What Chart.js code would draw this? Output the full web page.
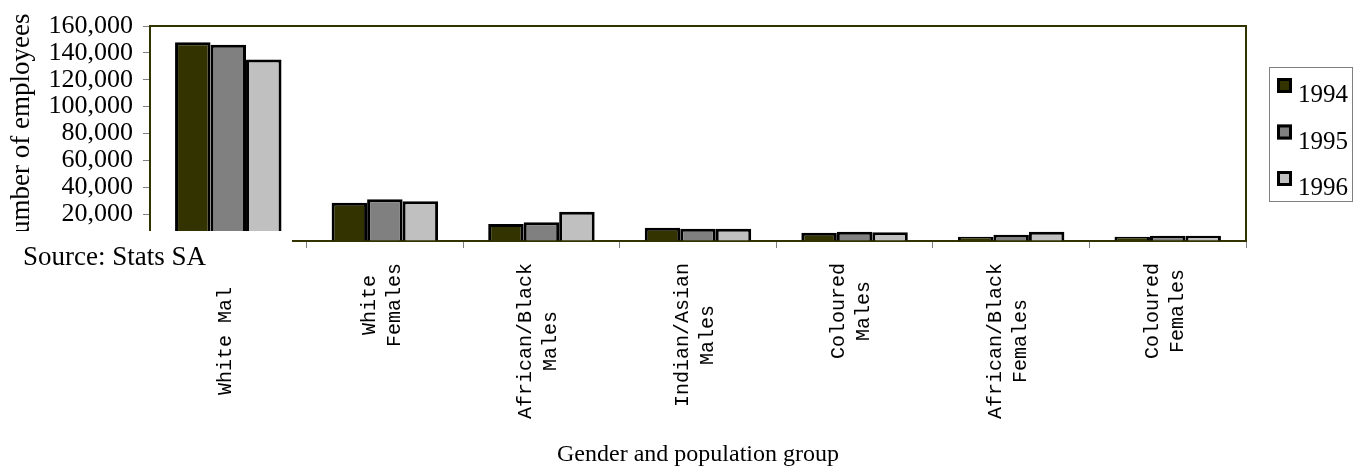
<!DOCTYPE html>
<html>
<head>
<meta charset="utf-8">
<script src="https://cdn.jsdelivr.net/npm/chart.js@4"></script>
<style>
  html, body { margin: 0; padding: 0; background: #fff; }
  #wrap { width: 1353px; height: 471px; }
</style>
</head>
<body>
<div id="wrap"><canvas id="chart" width="1353" height="471"></canvas></div>
<script>
// employees by gender and population group
const years = ['1994', '1995', '1996'];
const groups = [
  ['White Males'],
  ['White', 'Females'],
  ['African/Black', 'Males'],
  ['Indian/Asian', 'Males'],
  ['Coloured', 'Males'],
  ['African/Black', 'Females'],
  ['Coloured', 'Females']
];
const emp1994 = [148000, 28500, 12600, 9900, 6200, 3200, 3200];
const emp1995 = [146000, 31000, 13900, 9200, 6900, 4700, 3900];
const emp1996 = [135000, 29500, 21800, 9200, 6500, 6900, 3900];
const yTicks = [0, 20000, 40000, 60000, 80000, 100000, 120000, 140000, 160000];

const colors = ['#333300', '#808080', '#c0c0c0'];
const olive = '#333300';
const serif = '"Liberation Serif", "Times New Roman", serif';

// x labels, frame, source note and legend box
const extras = {
  id: 'extras',
  afterDraw(chart) {
    const ctx = chart.ctx;
    const area = chart.chartArea;
    const xs = chart.scales.x;
    ctx.save();

    // category labels, lines centred, rotated
    ctx.font = '20px "Liberation Mono", "Courier New", monospace';
    ctx.fillStyle = '#000';
    ctx.textAlign = 'center';
    ctx.textBaseline = 'middle';
    const top = area.bottom + 22;
    const lh = 25;
    chart.data.labels.forEach((lines, i) => {
      const x = xs.getPixelForTick(i) - 3;
      const longest = Math.max(...lines.map(l => ctx.measureText(l).width));
      ctx.save();
      ctx.translate(x, top + longest / 2);
      ctx.rotate(-Math.PI / 2);
      lines.forEach((l, j) => ctx.fillText(l, 0, (j - (lines.length - 1) / 2) * lh));
      ctx.restore();
    });

    // top and right frame
    ctx.strokeStyle = olive;
    ctx.lineWidth = 2;
    ctx.beginPath();
    ctx.moveTo(area.left, area.top);
    ctx.lineTo(area.right, area.top);
    ctx.lineTo(area.right, area.bottom);
    ctx.stroke();

    // source note box sitting over the lower left corner
    ctx.fillStyle = '#fff';
    ctx.fillRect(0, area.bottom - 10, 292, 56);
    ctx.fillStyle = '#000';
    ctx.font = '27px ' + serif;
    ctx.textAlign = 'left';
    ctx.textBaseline = 'alphabetic';
    ctx.fillText('Source: Stats SA', 23, area.bottom + 24);

    // legend
    const lx = 1269, ly = 67;
    ctx.fillStyle = '#fff';
    ctx.fillRect(lx, ly, 83, 134);
    ctx.strokeStyle = '#808080';
    ctx.lineWidth = 1;
    ctx.strokeRect(lx + 0.5, ly + 0.5, 83, 134);
    ctx.font = '25px ' + serif;
    chart.data.datasets.forEach((ds, i) => {
      const sy = ly + 11 + i * 46.5;
      ctx.fillStyle = ds.backgroundColor;
      ctx.fillRect(lx + 8, sy, 15, 15);
      ctx.strokeStyle = '#000';
      ctx.lineWidth = 3;
      ctx.strokeRect(lx + 9.5, sy + 1.5, 12, 12);
      ctx.fillStyle = '#000';
      ctx.fillText(ds.label, lx + 29, sy + 24);
    });
    ctx.restore();
  }
};

new Chart(document.getElementById('chart'), {
  type: 'bar',
  data: {
    labels: groups,
    datasets: [
      { label: years[0], data: emp1994, backgroundColor: colors[0] },
      { label: years[1], data: emp1995, backgroundColor: colors[1] },
      { label: years[2], data: emp1996, backgroundColor: colors[2] }
    ]
  },
  options: {
    responsive: false,
    animation: false,
    layout: { padding: { left: 0, top: 26, right: 107, bottom: 0 } },
    datasets: {
      bar: {
        borderColor: '#000',
        borderWidth: 3,
        categoryPercentage: 0.68,
        barPercentage: 1.0
      }
    },
    scales: {
      x: {
        afterFit: (s) => { s.height = 230; },
        grid: { offset: true, drawOnChartArea: false, tickLength: 7, color: '#808080' },
        border: { color: olive, width: 2 },
        ticks: { display: false, autoSkip: false },
        title: {
          display: true,
          text: 'Gender and population group',
          color: '#000',
          font: { family: serif, size: 24 },
          padding: { top: 0, bottom: 2 }
        }
      },
      y: {
        min: 0,
        max: 160000,
        afterFit: (s) => { s.width = 150; },
        afterBuildTicks: (s) => { s.ticks = yTicks.map(v => ({ value: v })); },
        grid: { drawOnChartArea: false, tickLength: 7, color: '#808080' },
        border: { color: olive, width: 2 },
        ticks: {
          color: '#000',
          padding: 10,
          autoSkip: false,
          font: { family: serif, size: 26 },
          callback: (v) => v === 0 ? '' : v.toLocaleString('en-US')
        },
        title: {
          display: true,
          text: 'Number of employees',
          color: '#000',
          font: { family: serif, size: 27 },
          padding: { top: 6, bottom: 0 }
        }
      }
    },
    plugins: {
      legend: { display: false },
      tooltip: { enabled: false }
    }
  },
  plugins: [extras]
});
</script>
</body>
</html>
